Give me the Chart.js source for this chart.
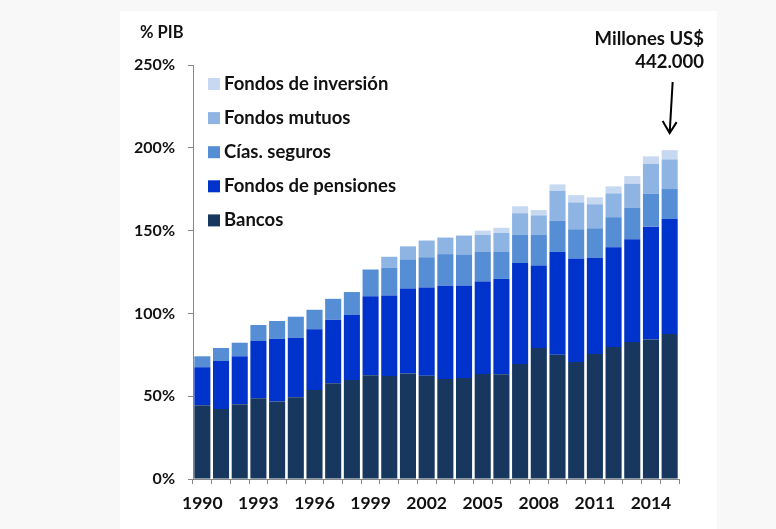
<!DOCTYPE html>
<html>
<head>
<meta charset="utf-8">
<script src="https://cdn.jsdelivr.net/npm/chart.js@4/dist/chart.umd.min.js"></script>
<style>
  html, body { margin: 0; padding: 0; background: #f8f8f8; }
  body { width: 776px; height: 529px; position: relative; overflow: hidden; }
  .panel { position: absolute; left: 120px; top: 11px; width: 597px; height: 518px; background: #fff; }
</style>
</head>
<body>
<div class="panel"><canvas id="myChart" width="597" height="518"></canvas></div>
<script>
// años
const years = ['1990','1991','1992','1993','1994','1995','1996','1997','1998','1999','2000','2001','2002',
  '2003','2004','2005','2006','2007','2008','2009','2010','2011','2012','2013','2014','2015'];

// % del PIB por tipo de institución
const bancos = [44.6,42.2,45.2,48.8,46.8,49.4,53.8,57.8,59.8,62.7,62.2,63.7,62.4,60.4,61.0,63.4,63.3,69.5,79.1,75.1,70.7,75.5,79.7,82.7,84.3,87.5];
const pensiones = [22.9,29.1,28.9,34.5,37.9,35.9,36.6,38.4,39.2,47.7,48.6,51.3,53.2,56.3,55.9,55.8,57.5,60.9,49.8,62.0,62.5,58.1,60.2,62.1,68.1,69.5];
const seguros = [6.6,7.8,8.2,9.7,10.7,12.7,11.8,12.6,13.9,16.1,16.7,17.6,18.3,19.1,18.7,17.9,16.3,17.0,18.5,18.8,17.6,17.8,18.2,18.9,19.9,18.1];
const mutuos = [0,0,0,0,0,0,0,0,0,0,6.7,7.9,10.1,10.0,11.4,10.3,11.5,13.1,11.8,18.0,16.2,14.5,14.4,14.6,17.9,17.9];
const inversion = [0,0,0,0,0,0,0,0,0,0,0,0,0,0,0,2.6,3.1,4.2,3.2,4.0,4.4,4.2,4.2,4.6,4.6,5.6];

const yTicks = [0, 50, 100, 150, 200, 250];

const FONT = 'Lato, "Open Sans", sans-serif';

// leyenda y textos dentro del gráfico
const extras = {
  id: 'extras',
  afterDraw(chart) {
    const ctx = chart.ctx;
    const xs = chart.scales.x;
    const ys = chart.scales.y;
    ctx.save();
    ctx.font = 'bold 18.5px ' + FONT;
    ctx.fillStyle = '#111';
    ctx.textBaseline = 'middle';

    // leyenda (orden invertido)
    const items = chart.data.datasets.slice().reverse();
    items.forEach((ds, i) => {
      const y = 73 + i * 34.1;
      ctx.fillStyle = ds.backgroundColor;
      ctx.fillRect(88, y - 6, 12, 12);
      ctx.fillStyle = '#111';
      ctx.textAlign = 'left';
      ctx.fillText(ds.label, 104, y);
    });

    ctx.textAlign = 'right';
    ctx.fillText('Millones US$', 584, 28);
    ctx.fillText('442.000', 584, 51);

    ctx.font = 'bold 16.5px ' + FONT;
    ctx.textAlign = 'left';
    ctx.fillText('% PIB', 20, 22);

    // flecha hacia la última barra
    const last = years.length - 1;
    let total = 0;
    chart.data.datasets.forEach(ds => { total += ds.data[last]; });
    const tipX = xs.getPixelForValue(last);
    const tipY = ys.getPixelForValue(total) - 17;
    ctx.strokeStyle = '#000';
    ctx.lineWidth = 2;
    ctx.beginPath();
    ctx.moveTo(tipX + 3, 71);
    ctx.lineTo(tipX, tipY);
    ctx.moveTo(tipX - 7, tipY - 12);
    ctx.lineTo(tipX, tipY);
    ctx.lineTo(tipX + 7, tipY - 11);
    ctx.stroke();
    ctx.restore();
  }
};

const ctx = document.getElementById('myChart');

const data = {
  labels: years,
  datasets: [
    { label: 'Bancos', data: bancos, backgroundColor: '#17375e' },
    { label: 'Fondos de pensiones', data: pensiones, backgroundColor: '#0033cc' },
    { label: 'Cías. seguros', data: seguros, backgroundColor: '#558ed5' },
    { label: 'Fondos mutuos', data: mutuos, backgroundColor: '#8eb4e3' },
    { label: 'Fondos de inversión', data: inversion, backgroundColor: '#c6d9f1' }
  ]
};

const config = {
  type: 'bar',
  data: data,
  options: {
    responsive: false,
    animation: false,
    layout: { padding: { left: 0, top: 54, right: 38, bottom: 0 } },
    datasets: { bar: { barPercentage: 0.86, categoryPercentage: 1, borderWidth: 0 } },
    plugins: { legend: { display: false }, tooltip: { enabled: false } },
    scales: {
      x: {
        stacked: true,
        offset: true,
        afterFit: (scale) => { scale.height = 50; },
        grid: { offset: true, drawOnChartArea: false, drawTicks: true, tickLength: 5, color: '#888' },
        border: { display: true, color: '#888' },
        ticks: {
          autoSkip: false,
          maxRotation: 0,
          padding: 9,
          color: '#111',
          font: { family: FONT, size: 17.5, weight: 'bold' },
          callback: (v, i) => (i % 3 === 0 ? years[i] : '')
        }
      },
      y: {
        stacked: true,
        min: 0,
        max: 250,
        afterFit: (scale) => { scale.width = 73; },
        afterBuildTicks: (scale) => { scale.ticks = yTicks.map(v => ({ value: v })); },
        grid: { drawOnChartArea: false, drawTicks: true, tickLength: 5, color: '#888' },
        border: { display: true, color: '#888' },
        ticks: {
          padding: 13,
          color: '#111',
          font: { family: FONT, size: 16, weight: 'bold' },
          callback: (v) => v + '%'
        }
      }
    }
  },
  plugins: [extras]
};

const myChart = new Chart(ctx, config);
</script>
</body>
</html>
